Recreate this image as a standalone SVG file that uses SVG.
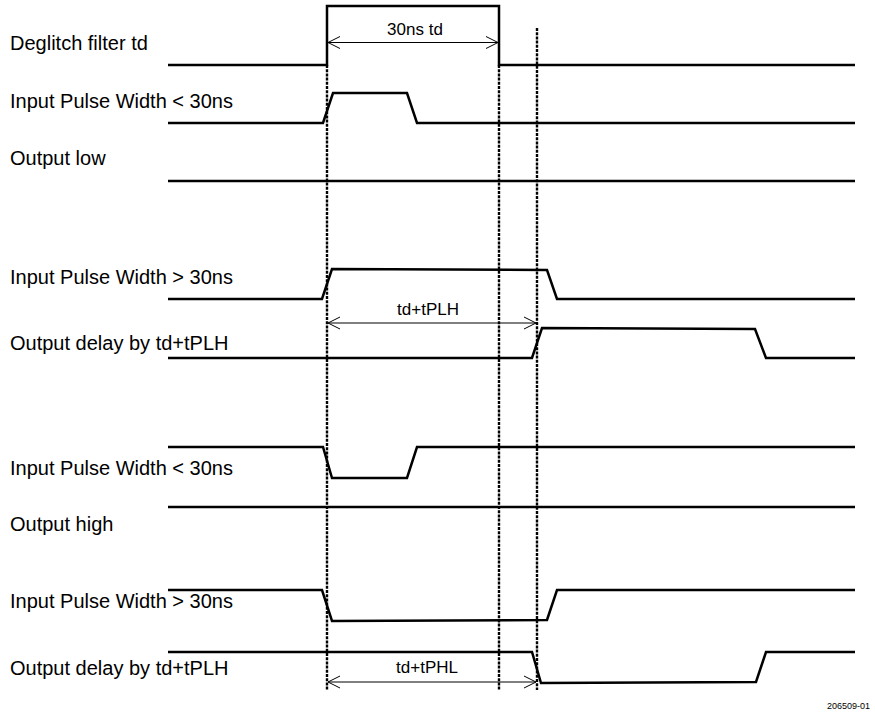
<svg xmlns="http://www.w3.org/2000/svg" width="875" height="721" viewBox="0 0 875 721">
<style>
.sig{fill:none;stroke:#000;stroke-width:2.5;stroke-linejoin:miter}
.dot{fill:none;stroke:#000;stroke-width:2.4;stroke-dasharray:3 1.2}
.dim{fill:none;stroke:#000;stroke-width:1}
.lbl{font-family:"Liberation Sans",Arial,sans-serif;font-size:20px;fill:#000}
.dl{font-family:"Liberation Sans",Arial,sans-serif;font-size:17px;fill:#000;text-anchor:middle}
.ft{font-family:"Liberation Sans",Arial,sans-serif;font-size:9px;fill:#000;text-anchor:end}
</style>
<defs>
<marker id="ah" markerWidth="13" markerHeight="14" refX="12" refY="7" orient="auto-start-reverse" markerUnits="userSpaceOnUse">
<path d="M0,1 L12,7 L0,13" fill="none" stroke="#000" stroke-width="1"/>
</marker>
</defs>
<g id="guides">
<line class="dot" x1="327" y1="65" x2="327" y2="690"/>
<line class="dot" x1="499" y1="65" x2="499" y2="690"/>
<line class="dot" x1="537" y1="28" x2="537" y2="690"/>
</g>
<g id="deglitch">
<text class="lbl" x="10" y="50">Deglitch filter td</text>
<polyline class="sig" points="168,65 327,65 327,6 499,6 499,65 855,65"/>
</g>
<g id="in-lt30-a">
<text class="lbl" x="10" y="108">Input Pulse Width &lt; 30ns</text>
<polyline class="sig" points="168,123 323,123 333,93 407,93 417,123 855,123"/>
</g>
<g id="out-low">
<text class="lbl" x="10" y="165">Output low</text>
<polyline class="sig" points="168,181 855,181"/>
</g>
<g id="in-gt30-a">
<text class="lbl" x="10" y="284">Input Pulse Width &gt; 30ns</text>
<polyline class="sig" points="168,299 322,299 332,269 547,270 557,299 855,299"/>
</g>
<g id="out-delay-a">
<text class="lbl" x="10" y="350">Output delay by td+tPLH</text>
<polyline class="sig" points="168,358 532,358 542,328 755,329 766,358 855,358"/>
</g>
<g id="in-lt30-b">
<text class="lbl" x="10" y="475">Input Pulse Width &lt; 30ns</text>
<polyline class="sig" points="168,447 323,447 332,478 407,478 417,447 855,447"/>
</g>
<g id="out-high">
<text class="lbl" x="10" y="531">Output high</text>
<polyline class="sig" points="168,507 855,507"/>
</g>
<g id="in-gt30-b">
<text class="lbl" x="10" y="608">Input Pulse Width &gt; 30ns</text>
<polyline class="sig" points="168,590 322,590 332,621 547,620 557,590 855,590"/>
</g>
<g id="out-delay-b">
<text class="lbl" x="10" y="675">Output delay by td+tPLH</text>
<polyline class="sig" points="168,652 532,652 541,683 756,682 766,652 855,652"/>
</g>
<g id="connectors">
<line class="dim" x1="328" y1="42.5" x2="498" y2="42.5" marker-start="url(#ah)" marker-end="url(#ah)"/>
<line class="dim" x1="328" y1="323" x2="536" y2="323" marker-start="url(#ah)" marker-end="url(#ah)"/>
<line class="dim" x1="328" y1="682" x2="536" y2="682" marker-start="url(#ah)" marker-end="url(#ah)"/>
</g>
<g id="labels">
<text class="dl" x="415" y="35">30ns td</text>
<text class="dl" x="428" y="315">td+tPLH</text>
<text class="dl" x="427" y="673">td+tPHL</text>
<text class="ft" x="870" y="709">206509-01</text>
</g>
</svg>
